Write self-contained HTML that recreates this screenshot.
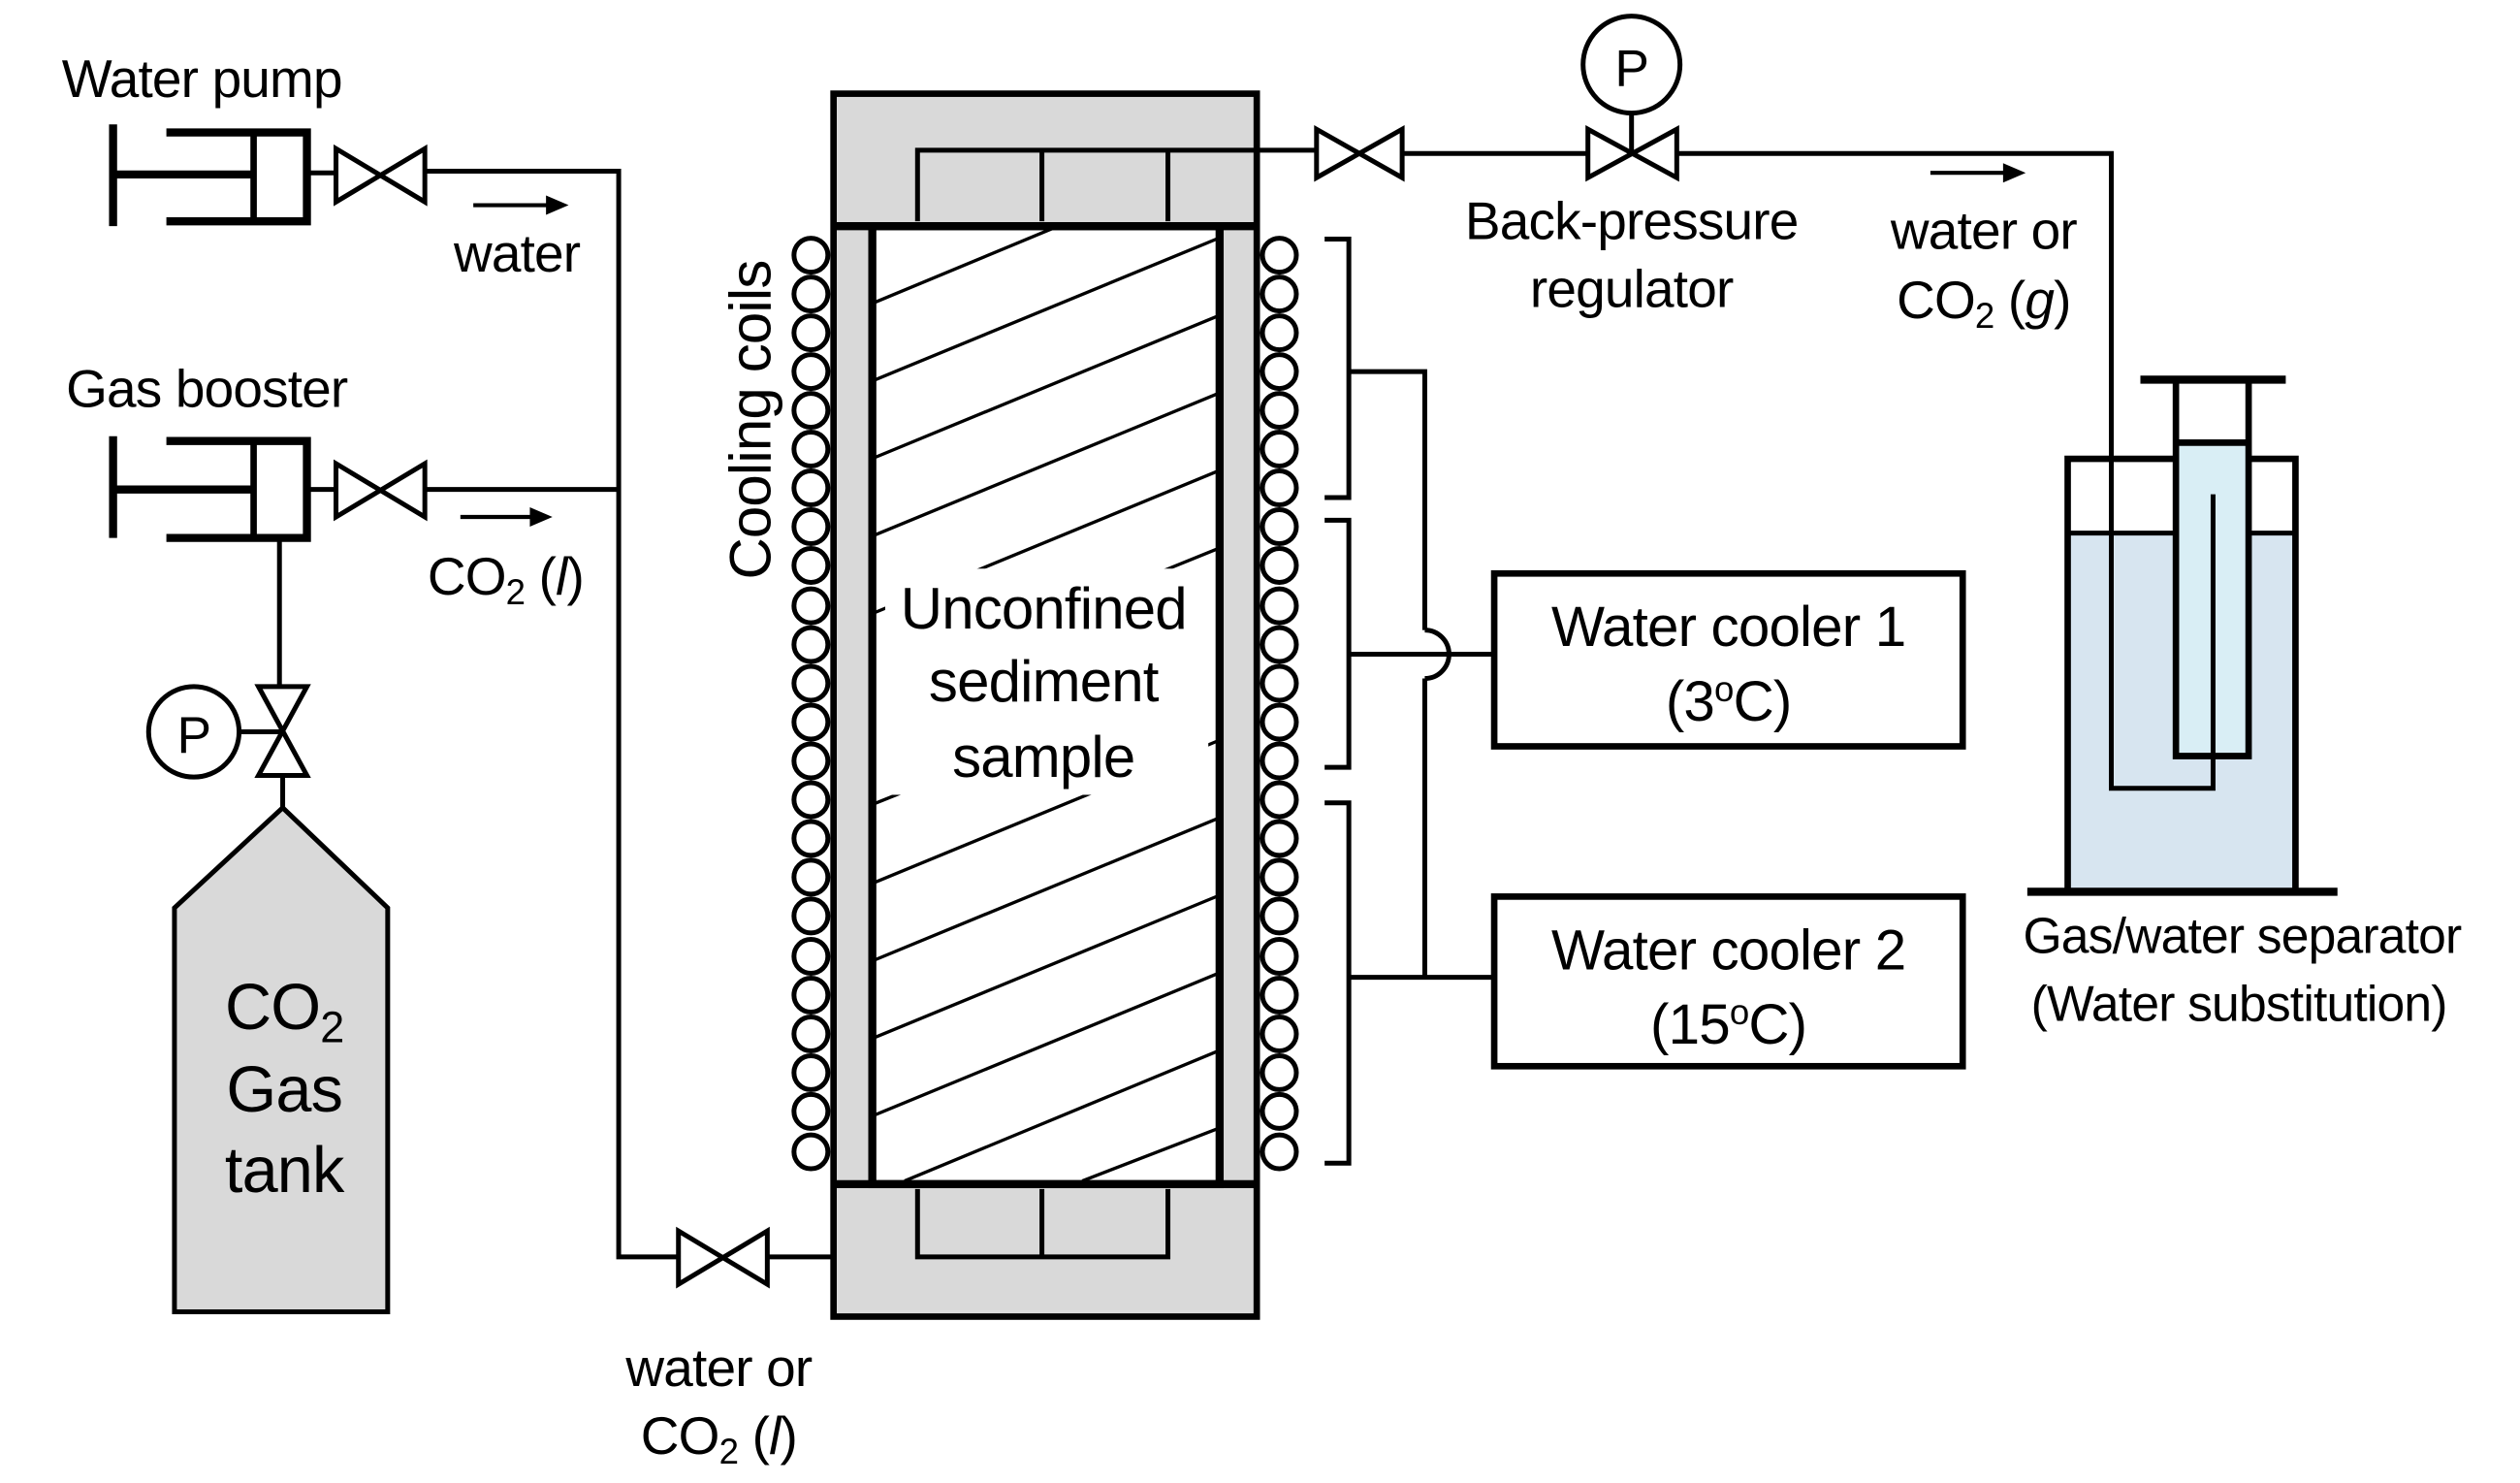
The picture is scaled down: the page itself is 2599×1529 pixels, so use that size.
<!DOCTYPE html>
<html><head><meta charset="utf-8"><style>
html,body{margin:0;padding:0;background:#fff}
svg{display:block}
text{font-family:"Liberation Sans",Arial,sans-serif;fill:#000;letter-spacing:-0.5px}
</style></head><body>
<svg width="2599" height="1529" viewBox="0 0 1560 918" preserveAspectRatio="none" xmlns="http://www.w3.org/2000/svg">
<g stroke="#000" stroke-width="4" fill="none">
<!-- Water pump -->
<line x1="70" y1="77" x2="70" y2="140" stroke-width="5"/>
<line x1="70" y1="108" x2="157" y2="108" stroke-width="5"/>
<polyline points="103,82 190,82 190,137 103,137" stroke-width="5"/>
<line x1="157" y1="82" x2="157" y2="137" stroke-width="4"/>
<line x1="190" y1="107" x2="208" y2="107" stroke-width="3"/>
<polygon points="208,92 263,125 263,92 208,125" stroke-width="3"/>
<polyline points="263,106 383,106 383,778 420,778" stroke-width="3"/>
<!-- Gas booster -->
<line x1="70" y1="270" x2="70" y2="333" stroke-width="5"/>
<line x1="70" y1="303" x2="157" y2="303" stroke-width="5"/>
<polyline points="103,273 190,273 190,333 103,333" stroke-width="5"/>
<line x1="157" y1="273" x2="157" y2="333" stroke-width="4"/>
<line x1="190" y1="303" x2="208" y2="303" stroke-width="3"/>
<polygon points="208,287 263,320 263,287 208,320" stroke-width="3"/>
<line x1="263" y1="303" x2="383" y2="303" stroke-width="3"/>
<line x1="173" y1="333" x2="173" y2="425" stroke-width="3"/>
<polygon points="160,425 190,480 160,480 190,425" stroke-width="3"/>
<circle cx="120" cy="453" r="28" stroke-width="3"/>
<line x1="148" y1="453" x2="175" y2="453" stroke-width="3"/>
<line x1="175" y1="480" x2="175" y2="500" stroke-width="3"/>
<polygon points="175,500 108,562 108,812 240,812 240,562" fill="#d9d9d9" stroke-width="3"/>
<!-- bottom valve -->
<polygon points="420,762 475,795 475,762 420,795" stroke-width="3"/>
<polyline points="475,778 723,778" stroke-width="3"/>
<!-- Column -->
<rect x="516" y="58" width="262" height="757" fill="#d9d9d9" stroke-width="4"/>
<rect x="540" y="140" width="215" height="593" fill="#fff" stroke-width="5"/>
<line x1="516" y1="140" x2="778" y2="140" stroke-width="5"/>
<line x1="516" y1="733" x2="778" y2="733" stroke-width="5"/>
<polyline points="568,137 568,93 815,93" stroke-width="3"/>
<line x1="645" y1="93" x2="645" y2="137" stroke-width="3"/>
<line x1="723" y1="93" x2="723" y2="137" stroke-width="3"/>
<polyline points="568,736 568,778 723,778 723,736" stroke-width="3"/>
<line x1="645" y1="736" x2="645" y2="778" stroke-width="3"/>
<!-- hatch -->
<g stroke-width="2">
<line x1="542" y1="187" x2="655" y2="140"/>
<line x1="542" y1="235" x2="753" y2="148"/>
<line x1="542" y1="283" x2="753" y2="196"/>
<line x1="542" y1="331" x2="753" y2="244"/>
<line x1="542" y1="379" x2="753" y2="292"/>
<line x1="605" y1="400" x2="753" y2="340"/>
<line x1="540" y1="498" x2="600" y2="474"/>
<line x1="542" y1="546" x2="753" y2="459"/>
<line x1="542" y1="594" x2="753" y2="507"/>
<line x1="542" y1="642" x2="753" y2="555"/>
<line x1="542" y1="690" x2="753" y2="603"/>
<line x1="560" y1="731" x2="753" y2="651"/>
<line x1="670" y1="731" x2="753" y2="699"/>
</g>
<rect x="548" y="352" width="200" height="140" fill="#fff" stroke="none"/>
<!-- top pipe right -->
<polygon points="815,80 868,110 868,80 815,110" stroke-width="3"/>
<line x1="868" y1="95" x2="983" y2="95" stroke-width="3"/>
<polygon points="983,80 1038,110 1038,80 983,110" stroke-width="3"/>
<circle cx="1010" cy="40" r="30" stroke-width="3"/>
<line x1="1010" y1="70" x2="1010" y2="95" stroke-width="3"/>
<!-- brackets -->
<polyline points="820,148 835,148 835,308 820,308" stroke-width="3"/>
<polyline points="820,322 835,322 835,475 820,475" stroke-width="3"/>
<polyline points="820,497 835,497 835,720 820,720" stroke-width="3"/>
<polyline points="835,230 882,230 882,390" stroke-width="3"/>
<path d="M882,390 A15,15 0 0 1 882,420" stroke-width="3"/>
<line x1="882" y1="420" x2="882" y2="605" stroke-width="3"/>
<line x1="835" y1="405" x2="925" y2="405" stroke-width="3"/>
<line x1="835" y1="605" x2="925" y2="605" stroke-width="3"/>
<rect x="925" y="355" width="290" height="107" stroke-width="4"/>
<rect x="925" y="555" width="290" height="105" stroke-width="4"/>
<!-- separator -->
<rect x="1280" y="330" width="141" height="220" fill="#d7e5f0" stroke="none"/>
<polyline points="1280,550 1280,284 1421,284 1421,550" stroke-width="4"/>
<line x1="1280" y1="330" x2="1421" y2="330" stroke-width="3"/>
<rect x="1347" y="274" width="45" height="194" fill="#d9eef5" stroke="none"/>
<polyline points="1347,235 1347,468 1392,468 1392,235" stroke-width="4"/>
<line x1="1347" y1="274" x2="1392" y2="274" stroke-width="4"/>
<line x1="1325" y1="235" x2="1415" y2="235" stroke-width="5"/>
<line x1="1255" y1="552" x2="1447" y2="552" stroke-width="5"/>
<polyline points="1038,95 1307,95 1307,488 1370,488 1370,306" stroke-width="3"/>
</g>
<!-- coils -->
<g stroke="#000" stroke-width="3" fill="#fff">
<circle cx="502" cy="158" r="10.5"/><circle cx="502" cy="182" r="10.5"/><circle cx="502" cy="206" r="10.5"/><circle cx="502" cy="230" r="10.5"/><circle cx="502" cy="254" r="10.5"/><circle cx="502" cy="278" r="10.5"/><circle cx="502" cy="302" r="10.5"/><circle cx="502" cy="326" r="10.5"/><circle cx="502" cy="350" r="10.5"/><circle cx="502" cy="375" r="10.5"/><circle cx="502" cy="399" r="10.5"/><circle cx="502" cy="423" r="10.5"/><circle cx="502" cy="447" r="10.5"/><circle cx="502" cy="471" r="10.5"/><circle cx="502" cy="495" r="10.5"/><circle cx="502" cy="519" r="10.5"/><circle cx="502" cy="543" r="10.5"/><circle cx="502" cy="567" r="10.5"/><circle cx="502" cy="592" r="10.5"/><circle cx="502" cy="616" r="10.5"/><circle cx="502" cy="640" r="10.5"/><circle cx="502" cy="664" r="10.5"/><circle cx="502" cy="688" r="10.5"/><circle cx="502" cy="713" r="10.5"/>
<circle cx="792" cy="158" r="10.5"/><circle cx="792" cy="182" r="10.5"/><circle cx="792" cy="206" r="10.5"/><circle cx="792" cy="230" r="10.5"/><circle cx="792" cy="254" r="10.5"/><circle cx="792" cy="278" r="10.5"/><circle cx="792" cy="302" r="10.5"/><circle cx="792" cy="326" r="10.5"/><circle cx="792" cy="350" r="10.5"/><circle cx="792" cy="375" r="10.5"/><circle cx="792" cy="399" r="10.5"/><circle cx="792" cy="423" r="10.5"/><circle cx="792" cy="447" r="10.5"/><circle cx="792" cy="471" r="10.5"/><circle cx="792" cy="495" r="10.5"/><circle cx="792" cy="519" r="10.5"/><circle cx="792" cy="543" r="10.5"/><circle cx="792" cy="567" r="10.5"/><circle cx="792" cy="592" r="10.5"/><circle cx="792" cy="616" r="10.5"/><circle cx="792" cy="640" r="10.5"/><circle cx="792" cy="664" r="10.5"/><circle cx="792" cy="688" r="10.5"/><circle cx="792" cy="713" r="10.5"/>
</g>
<!-- arrows -->
<g stroke="#000" stroke-width="2.5">
<line x1="293" y1="127" x2="340" y2="127"/><line x1="285" y1="320" x2="330" y2="320"/><line x1="1195" y1="107" x2="1242" y2="107"/>
</g>
<g fill="#000">
<polygon points="352,127 338,121 338,133"/><polygon points="342,320 328,314 328,326"/><polygon points="1254,107 1240,101 1240,113"/>
</g>
<g font-size="33" text-anchor="middle">
<text x="125" y="60">Water pump</text>
<text x="320" y="168">water</text>
<text x="128" y="252">Gas booster</text>
<text x="313" y="368">CO<tspan font-size="22" dy="6">2</tspan><tspan dy="-6"> (</tspan><tspan font-style="italic">l</tspan>)</text>
<text x="120" y="466" font-size="32">P</text>
<text x="1010" y="53" font-size="32">P</text>
<text x="176" y="637" font-size="40">CO<tspan font-size="27" dy="8">2</tspan></text>
<text x="176" y="688" font-size="40">Gas</text>
<text x="176" y="738" font-size="40">tank</text>
<text x="646" y="389" font-size="36">Unconfined</text>
<text x="646" y="434" font-size="36">sediment</text>
<text x="646" y="481" font-size="36">sample</text>
<text transform="translate(477,260) rotate(-90)" font-size="36">Cooling coils</text>
<text x="1010" y="148">Back-pressure</text>
<text x="1010" y="190">regulator</text>
<text x="1228" y="154">water or</text>
<text x="1228" y="197">CO<tspan font-size="22" dy="6">2</tspan><tspan dy="-6"> (</tspan><tspan font-style="italic">g</tspan>)</text>
<text x="1070" y="400" font-size="35">Water cooler 1</text>
<text x="1070" y="446" font-size="35">(3<tspan font-size="22" dy="-12">o</tspan><tspan dy="12">C)</tspan></text>
<text x="1070" y="600" font-size="35">Water cooler 2</text>
<text x="1070" y="646" font-size="35">(15<tspan font-size="22" dy="-12">o</tspan><tspan dy="12">C)</tspan></text>
<text x="1388" y="590" font-size="31">Gas/water separator</text>
<text x="1386" y="632" font-size="31">(Water substitution)</text>
<text x="445" y="858">water or</text>
<text x="445" y="900">CO<tspan font-size="22" dy="6">2</tspan><tspan dy="-6"> (</tspan><tspan font-style="italic">l</tspan>)</text>
</g>
</svg>
</body></html>
